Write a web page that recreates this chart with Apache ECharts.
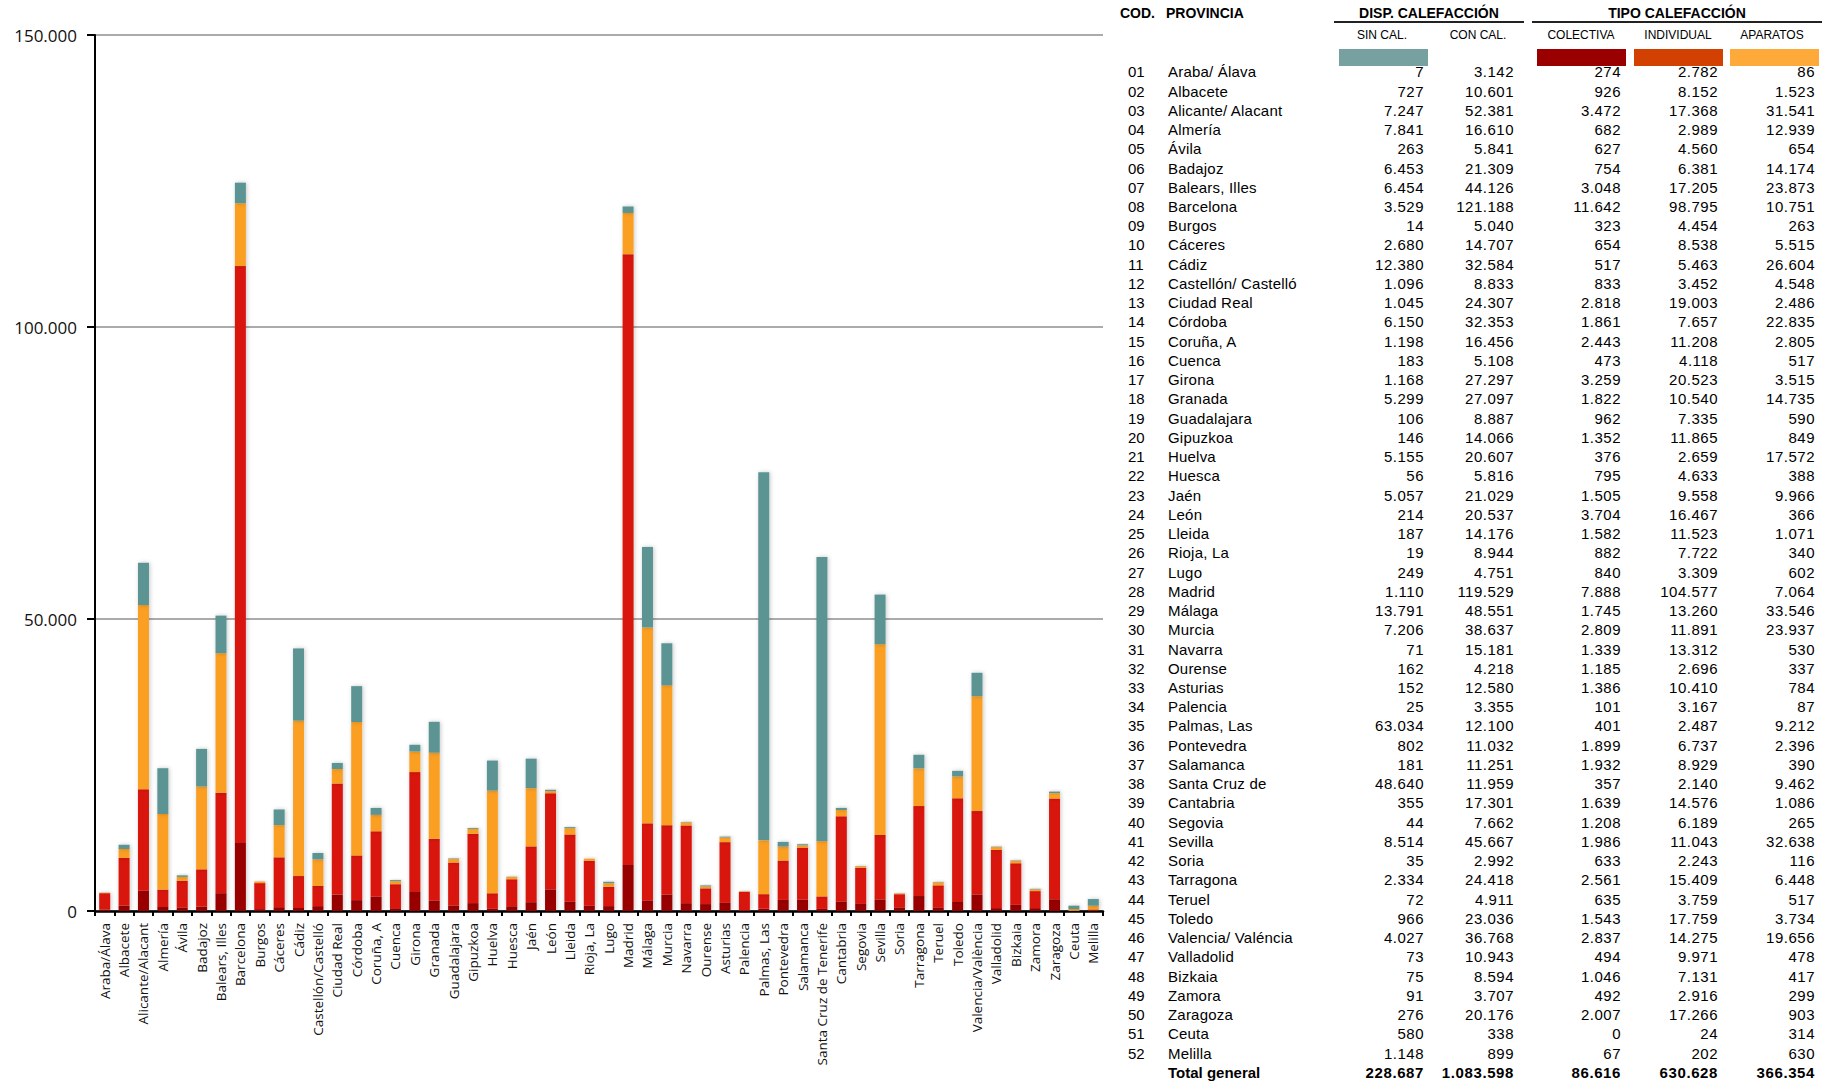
<!DOCTYPE html>
<html><head><meta charset="utf-8">
<script src="https://cdn.jsdelivr.net/npm/echarts@6/dist/echarts.min.js"></script>
<style>
html,body{margin:0;padding:0;background:#fff;}
#chart{position:absolute;left:0;top:0;width:1829px;height:1084px;}
#tbl{position:absolute;left:0;top:0;width:1829px;height:1084px;font-family:"Liberation Sans",Arial,sans-serif;color:#000;}
.t{position:absolute;white-space:nowrap;line-height:18px;height:18px;transform:translateY(-50%);}
</style></head>
<body>
<div id="chart"></div>
<div id="tbl"></div>
<script>
const codes = ["01","02","03","04","05","06","07","08","09","10","11","12","13","14","15","16","17","18","19","20","21","22","23","24","25","26","27","28","29","30","31","32","33","34","35","36","37","38","39","40","41","42","43","44","45","46","47","48","49","50","51","52"];
const tableNames = ["Araba/ Álava","Albacete","Alicante/ Alacant","Almería","Ávila","Badajoz","Balears, Illes","Barcelona","Burgos","Cáceres","Cádiz","Castellón/ Castelló","Ciudad Real","Córdoba","Coruña, A","Cuenca","Girona","Granada","Guadalajara","Gipuzkoa","Huelva","Huesca","Jaén","León","Lleida","Rioja, La","Lugo","Madrid","Málaga","Murcia","Navarra","Ourense","Asturias","Palencia","Palmas, Las","Pontevedra","Salamanca","Santa Cruz de","Cantabria","Segovia","Sevilla","Soria","Tarragona","Teruel","Toledo","Valencia/ Valéncia","Valladolid","Bizkaia","Zamora","Zaragoza","Ceuta","Melilla"];
const categories = ["Araba/Álava","Albacete","Alicante/Alacant","Almería","Ávila","Badajoz","Balears, Illes","Barcelona","Burgos","Cáceres","Cádiz","Castellón/Castelló","Ciudad Real","Córdoba","Coruña, A","Cuenca","Girona","Granada","Guadalajara","Gipuzkoa","Huelva","Huesca","Jaén","León","Lleida","Rioja, La","Lugo","Madrid","Málaga","Murcia","Navarra","Ourense","Asturias","Palencia","Palmas, Las","Pontevedra","Salamanca","Santa Cruz de Tenerife","Cantabria","Segovia","Sevilla","Soria","Tarragona","Teruel","Toledo","Valencia/València","Valladolid","Bizkaia","Zamora","Zaragoza","Ceuta","Melilla"];
const sinCal = [7,727,7247,7841,263,6453,6454,3529,14,2680,12380,1096,1045,6150,1198,183,1168,5299,106,146,5155,56,5057,214,187,19,249,1110,13791,7206,71,162,152,25,63034,802,181,48640,355,44,8514,35,2334,72,966,4027,73,75,91,276,580,1148];
const conCal = [3142,10601,52381,16610,5841,21309,44126,121188,5040,14707,32584,8833,24307,32353,16456,5108,27297,27097,8887,14066,20607,5816,21029,20537,14176,8944,4751,119529,48551,38637,15181,4218,12580,3355,12100,11032,11251,11959,17301,7662,45667,2992,24418,4911,23036,36768,10943,8594,3707,20176,338,899];
const colectiva = [274,926,3472,682,627,754,3048,11642,323,654,517,833,2818,1861,2443,473,3259,1822,962,1352,376,795,1505,3704,1582,882,840,7888,1745,2809,1339,1185,1386,101,401,1899,1932,357,1639,1208,1986,633,2561,635,1543,2837,494,1046,492,2007,0,67];
const individual = [2782,8152,17368,2989,4560,6381,17205,98795,4454,8538,5463,3452,19003,7657,11208,4118,20523,10540,7335,11865,2659,4633,9558,16467,11523,7722,3309,104577,13260,11891,13312,2696,10410,3167,2487,6737,8929,2140,14576,6189,11043,2243,15409,3759,17759,14275,9971,7131,2916,17266,24,202];
const aparatos = [86,1523,31541,12939,654,14174,23873,10751,263,5515,26604,4548,2486,22835,2805,517,3515,14735,590,849,17572,388,9966,366,1071,340,602,7064,33546,23937,530,337,784,87,9212,2396,390,9462,1086,265,32638,116,6448,517,3734,19656,478,417,299,903,314,630];
const totals = [228687,1083598,86616,630628,366354];
const yTicks = [0,50000,100000,150000];

function fmt(n){ return String(n).replace(/\B(?=(\d{3})+(?!\d))/g,'.'); }

const chart = echarts.init(document.getElementById('chart'), null, {renderer:'svg'});
const shadow = {shadowBlur:4, shadowColor:'rgba(0,0,0,0.22)', shadowOffsetX:1, shadowOffsetY:0};
function bar(name, data, color){
  return {name, type:'bar', stack:'t', data, barWidth:11, itemStyle:Object.assign({color}, shadow), emphasis:{disabled:true}};
}
chart.setOption({
  animation:false,
  grid:{left:95, top:35, width:1008, height:876, containLabel:false},
  xAxis:{type:'category', data:categories,
    axisLine:{lineStyle:{color:'#000', width:2.5}},
    axisTick:{show:true, length:5, lineStyle:{color:'#000', width:2}},
    axisLabel:{rotate:90, interval:0, margin:12, fontFamily:'Open Sans', fontSize:13.5, color:'#111'}},
  yAxis:{type:'value', min:0, max:150000, interval:50000,
    axisLine:{show:true, lineStyle:{color:'#000', width:2}},
    axisTick:{show:true, length:8, lineStyle:{color:'#000', width:2}},
    axisLabel:{margin:18, fontFamily:'Open Sans', fontSize:17, color:'#111', formatter:v=>fmt(v)},
    splitLine:{lineStyle:{color:'#8f8f8f', width:1.5}}},
  series:[
    bar('COLECTIVA', colectiva, '#980000'),
    bar('INDIVIDUAL', individual, '#d9150b'),
    bar('APARATOS', aparatos, '#fb9f24'),
    bar('SIN CAL.', sinCal, '#5b9393')
  ]
});

// Table
const tbl = document.getElementById('tbl');
function txt(s, x, y, opts){
  const d = document.createElement('div');
  d.className='t'; d.textContent=s;
  const o = opts||{};
  if(o.align==='right'){ d.style.left=(x-200)+'px'; d.style.width='200px'; d.style.textAlign='right'; }
  else if(o.align==='center'){ d.style.left=(x-150)+'px'; d.style.width='300px'; d.style.textAlign='center'; }
  else d.style.left=x+'px';
  d.style.top=y+'px';
  d.style.fontSize=(o.size||15)+'px';
  if(o.bold) d.style.fontWeight='bold';
  if(o.ls) d.style.letterSpacing=o.ls+'px';
  tbl.appendChild(d);
}
function rect(x,y,w,h,c){
  const d=document.createElement('div');
  d.style.cssText=`position:absolute;left:${x}px;top:${y}px;width:${w}px;height:${h}px;background:${c}`;
  tbl.appendChild(d);
}
txt('COD.', 1120, 12.5, {bold:true, size:14});
txt('PROVINCIA', 1166, 12.5, {bold:true, size:14});
txt('DISP. CALEFACCIÓN', 1429, 12.5, {bold:true, size:14, align:'center'});
txt('TIPO CALEFACCIÓN', 1677, 12.5, {bold:true, size:14, align:'center'});
rect(1334, 21, 190, 2, '#222');
rect(1532, 21, 290, 2, '#222');
txt('SIN CAL.', 1382, 34.5, {size:12, align:'center'});
txt('CON CAL.', 1478, 34.5, {size:12, align:'center'});
txt('COLECTIVA', 1581, 34.5, {size:12, align:'center'});
txt('INDIVIDUAL', 1678, 34.5, {size:12, align:'center'});
txt('APARATOS', 1772, 34.5, {size:12, align:'center'});
rect(1339, 49, 89, 17, '#76a1a0');
rect(1537, 49, 89, 17, '#9b0000');
rect(1634, 49, 89, 17, '#d24002');
rect(1730, 49, 89, 17, '#fdaa3a');
const rightEdges = [1424, 1514, 1621, 1718, 1815];
for(let i=0;i<codes.length;i++){
  const y = 72.3 + i*19.24;
  txt(codes[i], 1128, y, {size:15});
  txt(tableNames[i], 1168, y, {size:15, ls:0.2});
  const vals=[sinCal[i], conCal[i], colectiva[i], individual[i], aparatos[i]];
  vals.forEach((v,k)=>txt(fmt(v), rightEdges[k], y, {size:15, align:'right', ls:0.5}));
}
const ty = 72.3 + 52*19.24;
txt('Total general', 1168, ty, {size:15, bold:true});
totals.forEach((v,k)=>txt(fmt(v), rightEdges[k], ty, {size:15, bold:true, align:'right', ls:0.6}));
</script>
</body></html>
